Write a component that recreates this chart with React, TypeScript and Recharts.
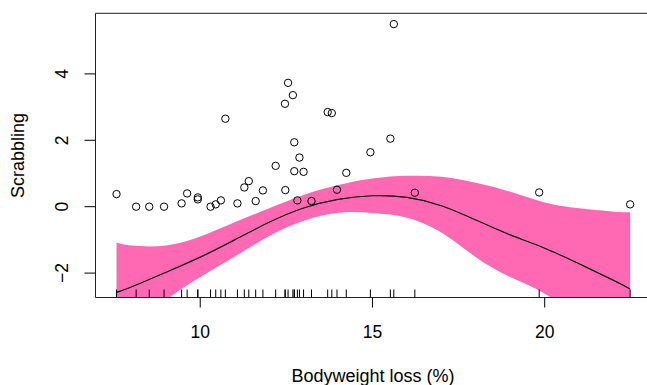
import React from "react";
import {
  ComposedChart,
  Area,
  Line,
  Scatter,
  XAxis,
  YAxis,
  ReferenceArea,
  Label,
} from "recharts";

// Observed points: bodyweight loss (%) vs scrabbling score
const POINT_X = [
  7.57, 8.14, 8.52, 8.95, 9.46, 9.62, 9.93, 9.93, 10.3, 10.45, 10.6, 10.73,
  11.08, 11.28, 11.41, 11.61, 11.82, 12.19, 12.46, 12.47, 12.55, 12.69, 12.73,
  12.73, 12.82, 12.88, 13.0, 13.23, 13.7, 13.82, 13.97, 14.24, 14.94, 15.52,
  15.62, 16.23, 19.84, 22.48,
];
const POINT_Y = [
  0.38, 0.0, 0.0, 0.0, 0.1, 0.4, 0.28, 0.22, 0.0, 0.07, 0.19, 2.65, 0.1, 0.58,
  0.77, 0.17, 0.49, 1.23, 3.1, 0.5, 3.73, 3.36, 1.94, 1.07, 0.19, 1.48, 1.05,
  0.17, 2.85, 2.82, 0.51, 1.02, 1.64, 2.05, 5.5, 0.42, 0.43, 0.07,
];

// Fitted smooth and its confidence band
const FIT_X = [7.57, 8, 9, 10, 11, 12, 13, 14, 15, 16, 17, 18, 19, 20, 21, 22, 22.48];
const FIT_Y = [-2.58, -2.42, -1.98, -1.52, -1.0, -0.47, -0.04, 0.22, 0.33, 0.28, 0.03, -0.4, -0.85, -1.25, -1.72, -2.22, -2.48];
const UPPER = [-1.08, -1.17, -1.17, -0.9, -0.47, -0.05, 0.35, 0.65, 0.85, 0.93, 0.9, 0.72, 0.45, 0.13, -0.05, -0.15, -0.17];
const LOWER = [-4.1, -3.7, -2.82, -2.12, -1.5, -0.88, -0.42, -0.18, -0.19, -0.33, -0.78, -1.52, -2.12, -2.62, -3.4, -4.3, -4.8];

const X_TICKS = [10, 15, 20];
const Y_TICKS = [-2, 0, 2, 4];
const X_DOMAIN: [number, number] = [6.96, 23.08];
const Y_DOMAIN: [number, number] = [-2.735, 5.825];

const X_LABEL = "Bodyweight loss (%)";
const Y_LABEL = "Scrabbling";

const FONT = "'Liberation Sans', Arial, Helvetica, sans-serif";

const fitData = FIT_X.map((x, i) => ({
  x,
  fit: FIT_Y[i],
  band: [LOWER[i], UPPER[i]],
}));
const pointData = POINT_X.map((x, i) => ({ x, y: POINT_Y[i] }));
const rugData = POINT_X.map((x) => ({ x, y: Y_DOMAIN[0] }));

const Circle = (props: any) => {
  const { cx, cy } = props;
  if (cx == null || cy == null) return null;
  return <circle cx={cx} cy={cy} r={3.7} fill="none" stroke="#000" strokeWidth={1} />;
};

const RugTick = (props: any) => {
  const { cx, cy } = props;
  if (cx == null || cy == null) return null;
  return <line x1={cx} x2={cx} y1={cy} y2={cy - 8} stroke="#000" strokeWidth={1} />;
};

const XTick = (props: any) => {
  const { x, payload } = props;
  return (
    <text x={x} y={338} textAnchor="middle" fontFamily={FONT} fontSize={17.5} fill="#000">
      {payload.value}
    </text>
  );
};

const YTick = (props: any) => {
  const { y, payload } = props;
  const label = payload.value < 0 ? "\u2212" + Math.abs(payload.value) : String(payload.value);
  return (
    <text
      x={68.5}
      y={y}
      transform={`rotate(-90, 68.5, ${y})`}
      textAnchor="middle"
      fontFamily={FONT}
      fontSize={17.5}
      fill="#000"
    >
      {label}
    </text>
  );
};

export default function App() {
  return (
    <div
      style={{
        position: "fixed",
        left: 0,
        top: 0,
        width: 647,
        height: 385,
        overflow: "hidden",
        background: "#fff",
      }}
    >
      <ComposedChart
        width={700}
        height={385}
        data={fitData}
        margin={{ top: 13.3, right: 49.2, left: 0, bottom: 0 }}
      >
        <XAxis
          type="number"
          dataKey="x"
          domain={X_DOMAIN}
          ticks={X_TICKS}
          allowDataOverflow
          height={87.5}
          tickSize={10}
          tickLine={{ stroke: "#000" }}
          axisLine={false}
          tick={<XTick />}
        >
          <Label
            content={() => (
              <text x={373} y={381.5} textAnchor="middle" fontFamily={FONT} fontSize={18} fill="#000">
                {X_LABEL}
              </text>
            )}
          />
        </XAxis>
        <YAxis
          type="number"
          domain={Y_DOMAIN}
          ticks={Y_TICKS}
          allowDataOverflow
          width={95.5}
          tickSize={11}
          tickLine={{ stroke: "#000" }}
          axisLine={false}
          tick={<YTick />}
        >
          <Label
            content={() => (
              <text
                x={24}
                y={155.4}
                transform="rotate(-90, 24, 155.4)"
                textAnchor="middle"
                fontFamily={FONT}
                fontSize={18}
                fill="#000"
              >
                {Y_LABEL}
              </text>
            )}
          />
        </YAxis>
        <Area
          type="natural"
          dataKey="band"
          fill="#FF69B4"
          fillOpacity={1}
          stroke="none"
          isAnimationActive={false}
        />
        <Line
          type="natural"
          dataKey="fit"
          stroke="#000"
          strokeWidth={1.2}
          dot={false}
          isAnimationActive={false}
        />
        <Scatter data={pointData} dataKey="y" shape={<Circle />} isAnimationActive={false} />
        <Scatter data={rugData} dataKey="y" shape={<RugTick />} isAnimationActive={false} />
        <ReferenceArea
          x1={X_DOMAIN[0]}
          x2={X_DOMAIN[1]}
          y1={Y_DOMAIN[0]}
          y2={Y_DOMAIN[1]}
          fill="none"
          stroke="#222"
          strokeWidth={1}
          ifOverflow="visible"
        />
      </ComposedChart>
    </div>
  );
}
